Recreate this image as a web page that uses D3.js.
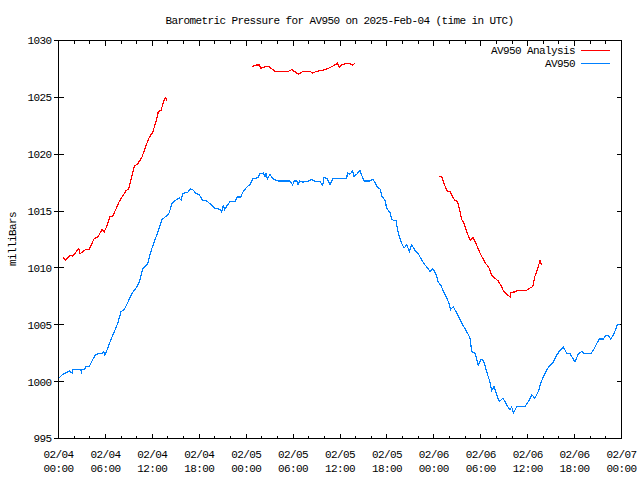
<!DOCTYPE html>
<html>
<head>
<meta charset="utf-8">
<script src="https://cdn.jsdelivr.net/npm/d3@7"></script>
<style>
  html, body { margin: 0; padding: 0; background: #fff; }
  svg { display: block; }
  text { font-family: "Liberation Mono", "DejaVu Sans Mono", monospace; font-size: 11px; letter-spacing: -0.6px; fill: #000; }
</style>
</head>
<body>
<svg id="chart" width="640" height="480"></svg>
<script>
// ---- data (hours after 2025-02-04 00:00 UTC, millibars) ----
const titleText = "Barometric Pressure for AV950 on 2025-Feb-04 (time in UTC)";
const yAxisTitle = "milliBars";
const seriesNames = ["AV950 Analysis", "AV950"];
const yTickValues = [995, 1000, 1005, 1010, 1015, 1020, 1025, 1030];
const xMajorHours = [0, 6, 12, 18, 24, 30, 36, 42, 48, 54, 60, 66, 72];
const xMinorHours = [2,4,8,10,14,16,20,22,26,28,32,34,38,40,44,46,50,52,56,58,62,64,68,70];

const stationSeries = [
  [0.17,1000.3],[0.6,1000.6],[1.45,1000.9],[1.8,1000.7],[1.88,1001.0],[2.94,1001.0],[3.0,1000.6],[3.05,1001.0],
  [3.36,1001.0],[3.58,1001.3],[4.0,1001.3],[4.44,1001.9],[4.77,1002.3],[5.08,1002.4],[5.72,1002.45],[5.85,1002.6],[5.95,1002.3],
  [6.14,1002.5],[6.56,1003.3],[7.2,1004.35],[7.64,1005.1],[8.06,1006.1],[8.48,1006.3],[8.91,1006.9],
  [9.46,1007.7],[9.98,1008.2],[10.4,1008.7],[10.83,1009.9],[11.47,1010.3],[11.68,1010.9],[12.02,1011.7],
  [12.44,1012.5],[12.75,1013.05],[13.3,1014.2],[13.81,1014.5],[14.16,1014.7],[14.58,1015.6],[15.0,1015.9],
  [15.51,1016.1],[15.77,1015.9],[15.95,1016.5],[16.59,1016.6],[16.88,1016.9],[17.3,1016.8],[17.65,1016.5],
  [18.07,1016.4],[18.5,1015.9],[18.93,1015.9],[19.44,1015.6],[20.08,1015.2],[20.72,1015.1],[20.94,1014.85],
  [21.14,1015.5],[21.3,1015.1],[21.49,1015.3],[22.0,1015.8],[22.64,1015.8],[22.93,1016.2],[23.37,1016.2],[23.7,1016.7],
  [24.13,1017.05],[24.56,1017.3],[24.9,1017.8],[25.62,1017.9],[25.74,1018.2],[26.26,1018.3],[26.47,1018.0],
  [26.6,1018.3],[26.77,1017.75],[27.11,1018.2],[27.46,1017.8],[27.8,1017.7],[28.17,1017.6],[29.67,1017.6],[30.0,1017.25],
  [30.2,1017.6],[30.53,1017.6],[30.7,1017.25],[30.9,1017.6],[31.37,1017.5],[32.0,1017.6],[32.44,1017.75],[32.74,1017.6],
  [33.5,1017.55],[33.85,1017.2],[34.02,1017.9],[34.44,1017.8],[34.79,1017.3],[35.13,1017.8],[36.92,1017.8],
  [37.0,1018.3],[37.34,1018.2],[37.69,1018.5],[37.86,1018.0],[38.2,1018.2],[38.62,1018.5],[38.84,1018.1],
  [39.14,1017.6],[39.9,1017.6],[40.25,1017.75],[40.54,1017.5],[40.76,1017.1],[41.18,1016.9],[41.4,1016.3],
  [41.82,1015.9],[42.04,1015.2],[42.46,1014.8],[42.68,1014.2],[43.23,1014.1],[43.52,1013.0],[43.96,1012.1],
  [44.25,1011.7],[44.6,1012.0],[44.93,1011.4],[45.24,1012.0],[45.66,1011.5],[46.08,1011.2],[46.51,1010.65],
  [46.94,1010.2],[47.36,1009.9],[47.58,1009.6],[47.92,1009.9],[48.34,1009.4],[48.64,1008.7],[48.94,1008.45],
  [49.49,1007.6],[49.92,1007.0],[50.22,1006.3],[50.56,1006.55],[50.9,1006.1],[51.2,1005.7],[51.63,1005.1],
  [52.27,1004.35],[52.69,1003.8],[52.91,1002.6],[53.33,1002.45],[53.75,1001.4],[54.1,1001.9],[54.32,1001.9],
  [54.61,1001.4],[54.83,1000.8],[55.16,1000.1],[55.47,999.2],[55.76,999.5],[56.11,998.8],[56.44,998.2],
  [56.87,998.5],[57.17,998.2],[57.46,997.8],[57.81,997.5],[58.02,997.75],[58.23,997.2],[58.66,997.75],
  [59.72,997.75],[60.15,998.2],[60.58,998.8],[61.0,998.5],[61.43,999.1],[61.73,999.8],[62.07,1000.4],
  [62.5,1001.0],[62.83,1001.3],[63.35,1001.7],[63.78,1002.3],[64.2,1002.7],[64.63,1003.0],[65.06,1002.45],
  [65.48,1002.4],[66.12,1001.7],[66.54,1002.4],[66.98,1002.6],[67.4,1002.4],[68.13,1002.4],[68.46,1002.7],
  [68.9,1003.3],[69.23,1003.7],[69.74,1003.7],[70.08,1004.05],[70.38,1004.0],[70.69,1003.7],[71.02,1004.05],
  [71.36,1004.6],[71.53,1005.0],[71.87,1005.0]
];

// null entries mark gaps in the analysis series
const analysisSeries = [
  [0.68,1010.9],[0.93,1010.65],[1.66,1011.1],[1.88,1011.0],[2.65,1011.65],[2.81,1011.2],[3.58,1011.6],
  [4.0,1011.6],[4.64,1012.55],[5.08,1012.65],[5.63,1013.35],[5.92,1013.15],[6.23,1013.6],[6.65,1014.5],
  [7.0,1014.5],[7.84,1015.8],[8.7,1016.75],[9.04,1016.9],[9.34,1017.7],[9.76,1018.9],[10.19,1019.1],
  [10.74,1019.7],[11.04,1020.3],[11.6,1021.35],[12.11,1021.9],[12.53,1022.8],[12.83,1023.7],[13.17,1023.8],
  [13.47,1024.5],[13.72,1024.95],[13.94,1024.7],
  null,
  [24.77,1027.6],[24.9,1027.7],[25.41,1027.8],[25.74,1027.8],[25.92,1027.5],[26.26,1027.6],[26.69,1027.7],
  [27.11,1027.6],[27.46,1027.4],[27.88,1027.2],[28.39,1027.25],[29.33,1027.2],[29.89,1027.4],[30.31,1027.2],
  [30.73,1027.0],[31.37,1027.25],[32.23,1027.25],[32.57,1027.1],[33.09,1027.25],[33.51,1027.3],[34.15,1027.4],
  [34.57,1027.5],[35.13,1027.7],[35.72,1027.95],[35.98,1027.6],[36.28,1027.8],[36.83,1027.95],[37.34,1027.9],
  [37.69,1027.8],[37.98,1027.95],
  null,
  [48.77,1018.0],[49.07,1018.0],[49.28,1017.55],[49.62,1016.95],[49.79,1016.7],[50.13,1016.65],[50.48,1016.2],
  [50.77,1015.9],[51.07,1015.8],[51.32,1015.2],[51.63,1014.2],[51.92,1013.9],[52.27,1013.15],[52.6,1012.55],
  [52.78,1012.4],[53.04,1012.65],[53.46,1012.1],[53.88,1011.4],[54.32,1010.8],[54.74,1010.3],[54.9,1010.2],
  [55.16,1009.9],[55.47,1009.3],[55.89,1009.05],[56.31,1008.8],[56.75,1008.3],[56.95,1007.95],[57.39,1007.65],
  [57.81,1007.4],[57.94,1007.8],[58.45,1007.85],[58.74,1008.0],[59.94,1008.0],[60.37,1008.2],[60.71,1008.3],
  [61.0,1009.25],[61.3,1009.8],[61.64,1010.6],[61.86,1010.2]
];

const seriesColors = ["#ff0000", "#0080ff"];

// ---- drawing ----
const base = Date.UTC(2025, 1, 4, 0, 0, 0);
const hr = h => new Date(base + h * 3600 * 1000);

const L = 58, R = 621, T = 40, B = 438;
const svg = d3.select("#chart");

const x = d3.scaleUtc().domain([hr(0), hr(72)]).range([L, R]);
const y = d3.scaleLinear().domain([995, 1030]).range([B, T]);

const fmtDate = d3.utcFormat("%m/%d");
const fmtTime = d3.utcFormat("%H:%M");

// bottom axis major ticks + labels
const gB = svg.append("g").attr("transform", `translate(0,${B + 0.5})`)
  .call(d3.axisBottom(x).tickValues(xMajorHours.map(hr)).tickSize(-5).tickPadding(0).tickFormat(""));
gB.select(".domain").remove();
gB.selectAll(".tick").each(function(d) {
  const t = d3.select(this).select("text");
  t.attr("y", null).attr("dy", null).attr("text-anchor", "middle");
  t.append("tspan").attr("x", 0).attr("y", 19).text(fmtDate(d));
  t.append("tspan").attr("x", 0).attr("y", 33).text(fmtTime(d));
});
// bottom minor
const gBm = svg.append("g").attr("transform", `translate(0,${B + 0.5})`)
  .call(d3.axisBottom(x).tickValues(xMinorHours.map(hr)).tickSize(-3).tickFormat(""));
gBm.select(".domain").remove();
// top major/minor (inward)
const gT = svg.append("g").attr("transform", `translate(0,${T + 0.5})`)
  .call(d3.axisTop(x).tickValues(xMajorHours.map(hr)).tickSize(-5).tickFormat(""));
gT.select(".domain").remove();
const gTm = svg.append("g").attr("transform", `translate(0,${T + 0.5})`)
  .call(d3.axisTop(x).tickValues(xMinorHours.map(hr)).tickSize(-3).tickFormat(""));
gTm.select(".domain").remove();

// left axis: labels + ticks crossing the border
const gL = svg.append("g").attr("transform", `translate(${L + 0.5},0)`)
  .call(d3.axisLeft(y).tickValues(yTickValues).tickSize(5).tickPadding(2).tickFormat(d3.format("d")));
gL.select(".domain").remove();
gL.selectAll("text").attr("dy", "0.35em");
const gLi = svg.append("g").attr("transform", `translate(${L + 0.5},0)`)
  .call(d3.axisRight(y).tickValues(yTickValues).tickSize(5).tickFormat(""));
gLi.select(".domain").remove();
// right axis inward ticks
const gR = svg.append("g").attr("transform", `translate(${R + 0.5},0)`)
  .call(d3.axisLeft(y).tickValues(yTickValues).tickSize(5).tickFormat(""));
gR.select(".domain").remove();

svg.selectAll(".tick line").attr("stroke", "#000").attr("shape-rendering", "crispEdges");
svg.selectAll(".tick text").attr("fill", "#000").style("font-family", null).style("font-size", null);
svg.selectAll("g").attr("font-family", null).attr("font-size", null);

// series lines
const line = d3.line()
  .defined(d => d !== null)
  .x(d => x(hr(d[0])))
  .y(d => y(d[1]));

svg.append("path").datum(analysisSeries)
  .attr("d", line).attr("fill", "none").attr("stroke", seriesColors[0]).attr("stroke-width", 1.2)
  .attr("shape-rendering", "crispEdges");
svg.append("path").datum(stationSeries)
  .attr("d", line).attr("fill", "none").attr("stroke", seriesColors[1]).attr("stroke-width", 1.2)
  .attr("shape-rendering", "crispEdges");

// border
svg.append("rect").attr("x", L + 0.5).attr("y", T + 0.5).attr("width", R - L).attr("height", B - T)
  .attr("fill", "none").attr("stroke", "#000").attr("shape-rendering", "crispEdges");

// title
svg.append("text").attr("x", (L + R) / 2).attr("y", 24).attr("text-anchor", "middle").text(titleText);
// y axis title
svg.append("text").attr("transform", `translate(16,${(T + B) / 2}) rotate(-90)`)
  .attr("text-anchor", "middle").text(yAxisTitle);

// legend
const legendRows = [50, 63];
seriesNames.forEach((name, i) => {
  svg.append("text").attr("x", 575).attr("y", legendRows[i] + 4).attr("text-anchor", "end").text(name);
  svg.append("line").attr("x1", 581).attr("x2", 610)
    .attr("y1", legendRows[i] + 0.5).attr("y2", legendRows[i] + 0.5)
    .attr("stroke", seriesColors[i]).attr("stroke-width", 1).attr("shape-rendering", "crispEdges");
});
</script>
</body>
</html>
